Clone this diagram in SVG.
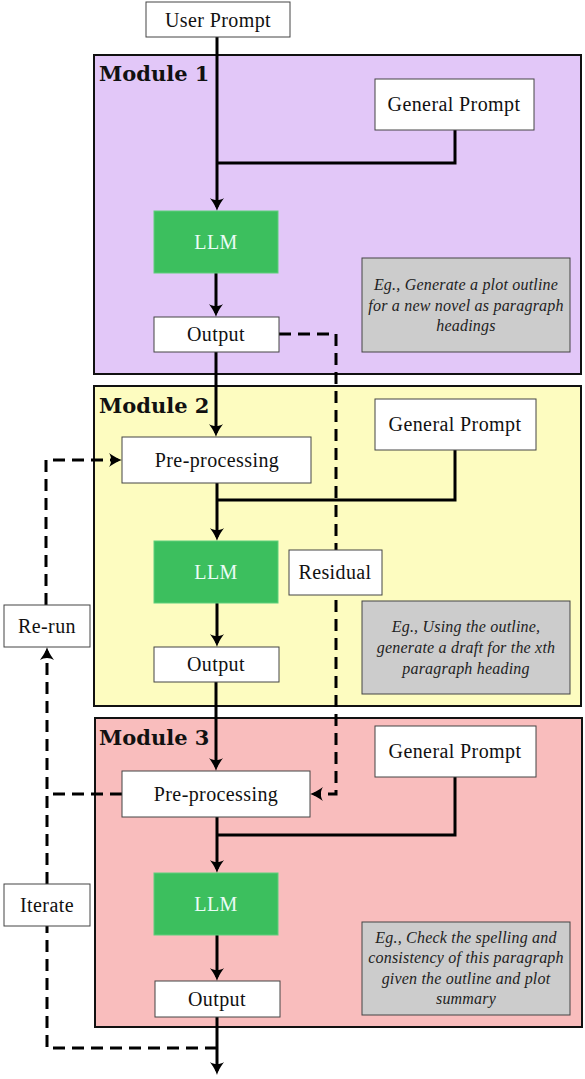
<svg xmlns="http://www.w3.org/2000/svg" width="585" height="1079" viewBox="0 0 585 1079">
<style>
.mod{stroke:#111;stroke-width:2}
.box{fill:#fff;stroke:#444;stroke-width:1}
.llm{fill:#3cbf5e;stroke:#5fcf7d;stroke-width:1}
.ex{fill:#cccccc;stroke:#444;stroke-width:1}
.t{font-family:"Liberation Serif","Times New Roman",serif;font-size:20px;letter-spacing:0.4px;fill:#111;text-anchor:middle}
.tl{font-family:"Liberation Serif","Times New Roman",serif;font-size:20px;letter-spacing:0.4px;fill:#eafcf6;text-anchor:middle}
.ml{font-family:"DejaVu Serif","Liberation Serif",serif;font-size:21px;font-weight:bold;fill:#111}
.it{font-family:"Liberation Serif","Times New Roman",serif;font-size:16px;letter-spacing:0.2px;font-style:italic;fill:#222;text-anchor:middle}
.c{fill:none;stroke:#000;stroke-width:3}
.d{fill:none;stroke:#000;stroke-width:3;stroke-dasharray:12 7}
</style>
<defs>
<marker id="ah" markerUnits="userSpaceOnUse" viewBox="0 -7.5 14 15" markerWidth="14" markerHeight="15" refX="9" refY="0" orient="auto">
<path d="M13,0 C9,-1 3.5,-4.5 0,-7 C2.8,-3.2 2.8,3.2 0,7 C3.5,4.5 9,1 13,0 Z" fill="#000"/>
</marker>
</defs>
<g id="module1"><rect class="mod" x="94" y="55" width="487" height="319" fill="#e2c7f8"/><text class="ml" x="99" y="81">Module 1</text></g>
<g id="module2"><rect class="mod" x="94" y="386" width="487" height="320" fill="#fdfcc0"/><text class="ml" x="99" y="413">Module 2</text></g>
<g id="module3"><rect class="mod" x="95" y="718" width="487" height="309" fill="#f9bdbd"/><text class="ml" x="99" y="745">Module 3</text></g>
<g id="connectors">
<path class="c" d="M217,37 V207" marker-end="url(#ah)"/>
<path class="c" d="M455,130 V163 H217"/>
<path class="c" d="M216,273 V313" marker-end="url(#ah)"/>
<path class="c" d="M216,352 V433" marker-end="url(#ah)"/>
<path class="c" d="M455,450 V500 H217"/>
<path class="c" d="M217,483 V537" marker-end="url(#ah)"/>
<path class="c" d="M217,603 V643" marker-end="url(#ah)"/>
<path class="c" d="M216,682 V767" marker-end="url(#ah)"/>
<path class="c" d="M455,777 V835 H217"/>
<path class="c" d="M217,817 V869" marker-end="url(#ah)"/>
<path class="c" d="M217,935 V977" marker-end="url(#ah)"/>
<path class="c" d="M217,1017 V1071" marker-end="url(#ah)"/>
<path class="d" d="M279,334 H336 V794 H314" marker-end="url(#ah)"/>
<path class="d" d="M217,1048 H47 V926"/>
<path class="d" d="M47,884 V651" marker-end="url(#ah)"/>
<path class="d" d="M122,794 H47"/>
<path class="d" d="M46,605 V460 H118" marker-end="url(#ah)"/>
</g>
<g id="user-prompt"><rect class="box" x="146" y="2" width="144" height="35"/><text class="t" x="218" y="27">User Prompt</text></g>
<g id="general-prompt-1"><rect class="box" x="375" y="79" width="159" height="51"/><text class="t" x="454" y="111">General Prompt</text></g>
<g id="llm-1"><rect class="llm" x="154" y="211" width="124" height="62"/><text class="tl" x="216" y="249">LLM</text></g>
<g id="output-1"><rect class="box" x="154" y="317" width="125" height="35"/><text class="t" x="216" y="341">Output</text></g>
<g id="example-1"><rect class="ex" x="362" y="258" width="208" height="94"/>
<text class="it" x="466" y="290">Eg., Generate a plot outline</text>
<text class="it" x="466" y="311">for a new novel as paragraph</text>
<text class="it" x="466" y="331">headings</text></g>
<g id="general-prompt-2"><rect class="box" x="375" y="399" width="161" height="51"/><text class="t" x="455" y="431">General Prompt</text></g>
<g id="preprocessing-2"><rect class="box" x="122" y="437" width="189" height="46"/><text class="t" x="217" y="467">Pre-processing</text></g>
<g id="llm-2"><rect class="llm" x="154" y="541" width="124" height="62"/><text class="tl" x="216" y="579">LLM</text></g>
<g id="residual"><rect class="box" x="289" y="550" width="93" height="45"/><text class="t" x="335" y="579">Residual</text></g>
<g id="output-2"><rect class="box" x="154" y="647" width="125" height="35"/><text class="t" x="216" y="671">Output</text></g>
<g id="example-2"><rect class="ex" x="362" y="601" width="208" height="93"/>
<text class="it" x="466" y="632">Eg., Using the outline,</text>
<text class="it" x="466" y="653">generate a draft for the xth</text>
<text class="it" x="466" y="674">paragraph heading</text></g>
<g id="re-run"><rect class="box" x="4" y="605" width="86" height="42"/><text class="t" x="47" y="633">Re-run</text></g>
<g id="general-prompt-3"><rect class="box" x="375" y="726" width="161" height="51"/><text class="t" x="455" y="758">General Prompt</text></g>
<g id="preprocessing-3"><rect class="box" x="122" y="771" width="188" height="46"/><text class="t" x="216" y="801">Pre-processing</text></g>
<g id="llm-3"><rect class="llm" x="154" y="873" width="124" height="62"/><text class="tl" x="216" y="911">LLM</text></g>
<g id="output-3"><rect class="box" x="155" y="981" width="125" height="36"/><text class="t" x="217" y="1006">Output</text></g>
<g id="example-3"><rect class="ex" x="362" y="922" width="208" height="93"/>
<text class="it" x="466" y="943">Eg., Check the spelling and</text>
<text class="it" x="466" y="963">consistency of this paragraph</text>
<text class="it" x="466" y="984">given the outline and plot</text>
<text class="it" x="466" y="1004">summary</text></g>
<g id="iterate"><rect class="box" x="4" y="884" width="86" height="42"/><text class="t" x="47" y="912">Iterate</text></g>
</svg>
